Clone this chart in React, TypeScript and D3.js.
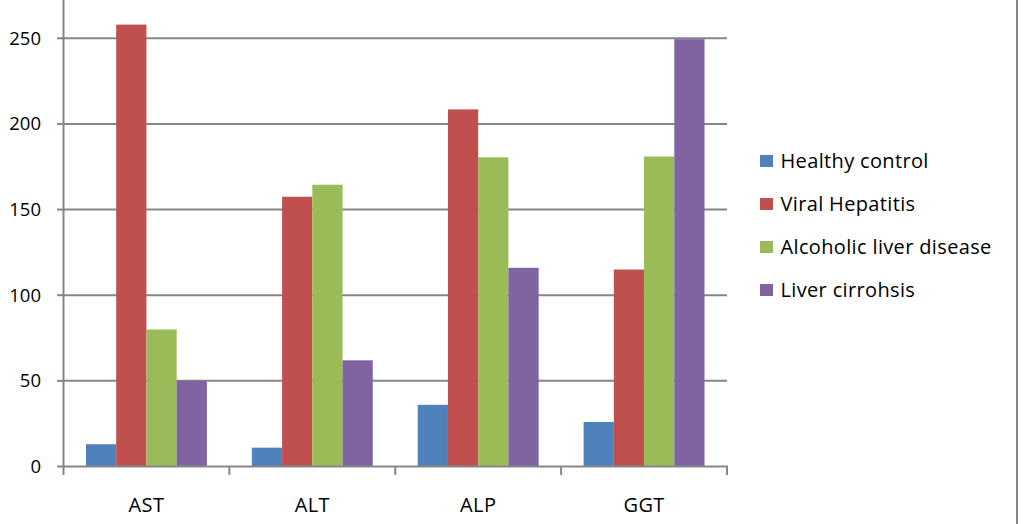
import React from "react";
import * as d3 from "d3";

const categories = ["AST", "ALT", "ALP", "GGT"];
const seriesNames = ["Healthy control", "Viral Hepatitis", "Alcoholic liver disease", "Liver cirrohsis"];
const healthyControl = [13, 11, 36, 26];
const viralHepatitis = [258, 157.5, 208.5, 115];
const alcoholicLiver = [80, 164.5, 180.5, 181];
const liverCirrhosis = [50, 62, 116, 249.5];
const yTicks = [0, 50, 100, 150, 200, 250];
const colors = ["#4F81BD", "#C0504D", "#9BBB59", "#8064A2"];

const W = 1024;
const H = 524;
const FONT = "'Open Sans', 'DejaVu Sans', sans-serif";

export default function App() {
  const seriesValues = [healthyControl, viralHepatitis, alcoholicLiver, liverCirrhosis];
  const x0 = 63.5;
  const x1 = 727;
  const yZero = 466.5;
  const y250 = 38.3;
  const y = d3.scaleLinear().domain([0, 250]).range([yZero, y250]);
  const xCat = d3.scaleBand<string>().domain(categories).range([x0, x1]).paddingInner(0).paddingOuter(0);
  const cw = xCat.bandwidth();
  const inset = cw * (22.5 / 166);
  const xSer = d3.scaleBand<number>().domain(d3.range(seriesNames.length)).range([inset, cw - inset]).padding(0);
  const grid = "#868686";

  const boundaries = d3.range(categories.length + 1).map((i) => x0 + i * cw);

  return (
    <svg width={W} height={H} style={{ position: "absolute", left: 0, top: 0, background: "#fff" }} fontFamily={FONT}>
      <rect x={0} y={0} width={W} height={H} fill="#fff" />
      {yTicks.map((t) => (
        <g key={t}>
          {t > 0 && <line x1={x0} x2={x1} y1={y(t)} y2={y(t)} stroke={grid} strokeWidth={2} />}
          <line x1={57} x2={x0} y1={y(t)} y2={y(t)} stroke={grid} strokeWidth={2} />
          <text x={41} y={y(t)} dy="0.35em" textAnchor="end" fontSize={18.5} fill="#000">{t}</text>
        </g>
      ))}
      {categories.map((c, ci) => (
        <g key={c} transform={`translate(${xCat(c)},0)`}>
          {seriesValues.map((vals, si) => (
            <rect
              key={si}
              x={xSer(si)}
              y={y(vals[ci])}
              width={xSer.bandwidth()}
              height={yZero - y(vals[ci])}
              fill={colors[si]}
            />
          ))}
          <text x={cw / 2} y={512} textAnchor="middle" fontSize={20} letterSpacing={0.35} fill="#000">{c}</text>
        </g>
      ))}
      <line x1={x0} x2={x0} y1={0} y2={yZero + 1} stroke={grid} strokeWidth={2} />
      <line x1={x0 - 1} x2={x1 + 1} y1={yZero} y2={yZero} stroke={grid} strokeWidth={2} />
      {boundaries.map((bx, i) => (
        <line key={i} x1={bx} x2={bx} y1={yZero} y2={475} stroke={grid} strokeWidth={2} />
      ))}
      {seriesNames.map((n, i) => (
        <g key={n} transform={`translate(760,${161 + i * 43})`}>
          <rect x={0} y={-6} width={13} height={12} fill={colors[i]} />
          <text x={20.5} y={0} dy="0.35em" fontSize={20} letterSpacing={0.35} fill="#000">{n}</text>
        </g>
      ))}
      <line x1={1017} x2={1017} y1={0} y2={H} stroke={grid} strokeWidth={2} />
    </svg>
  );
}
